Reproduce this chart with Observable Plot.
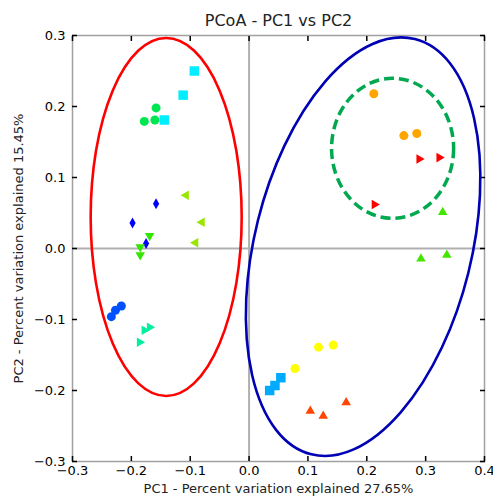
<!DOCTYPE html>
<html>
<head>
<meta charset="utf-8">
<script src="https://cdn.jsdelivr.net/npm/d3@7"></script>
<script src="https://cdn.jsdelivr.net/npm/@observablehq/plot@0.6"></script>
<style>
  html, body { margin: 0; padding: 0; background: white; }
  #chart { width: 493px; height: 499px; }
</style>
</head>
<body>
<div id="chart"></div>
<script>
// ---- Data ----
const title = "PCoA - PC1 vs PC2";
const xLabel = "PC1 - Percent variation explained 27.65%";
const yLabel = "PC2 - Percent variation explained 15.45%";
const xTicks = [-0.3, -0.2, -0.1, 0.0, 0.1, 0.2, 0.3, 0.4];
const yTicks = [-0.3, -0.2, -0.1, 0.0, 0.1, 0.2, 0.3];

// sample groups: marker kind + colour
const groupMarker = ["square", "circle", "diamond", "triLeft", "triDown", "circle", "triRight",
                     "circle", "triRight", "triUp", "circle", "square", "triUp"];
const groupColor  = ["#00eeff", "#00e650", "#0000ff", "#99e600", "#33e600", "#0050ff", "#00f0a0",
                     "#ffa500", "#ff0000", "#44e600", "#ffff00", "#00aaff", "#ff4500"];

// points
const pc1 = [
  -0.093, -0.112, -0.144,
  -0.158, -0.160, -0.178,
  -0.158, -0.198, -0.175,
  -0.107, -0.080, -0.091,
  -0.169, -0.185, -0.185,
  -0.234, -0.227, -0.217,
  -0.169, -0.178, -0.186,
   0.212,  0.263,  0.285,
   0.289,  0.323,  0.213,
   0.329,  0.292,  0.336,
   0.118,  0.143,  0.078,
   0.054,  0.044,  0.035,
   0.104,  0.126,  0.165
];
const pc2 = [
   0.250,  0.216,  0.181,
   0.198,  0.181,  0.179,
   0.063,  0.036,  0.007,
   0.075,  0.037,  0.008,
   0.018,  0.002, -0.009,
  -0.096, -0.087, -0.081,
  -0.111, -0.115, -0.132,
   0.218,  0.159,  0.162,
   0.126,  0.128,  0.062,
   0.051, -0.0145, -0.009,
  -0.139, -0.136, -0.169,
  -0.182, -0.193, -0.200,
  -0.229, -0.236, -0.217
];
const grp = [0,0,0, 1,1,1, 2,2,2, 3,3,3, 4,4,4, 5,5,5, 6,6,6, 7,7,7, 8,8,8, 9,9,9, 10,10,10, 11,11,11, 12,12,12];

// ellipses (centre, semi-axes in data units, rotation in degrees)
const ellCx    = [-0.140, 0.1946, 0.2447];
const ellCy    = [ 0.0437, 0.0018, 0.1404];
const ellRx    = [ 0.1283, 0.1842, 0.1037];
const ellRy    = [ 0.2521, 0.3014, 0.0986];
const ellAngle = [ 0, 14, 0];
const ellColor = ["#ff0000", "#0000b4", "#00a84f"];
const ellDash  = [null, null, "10,5"];
const ellWidth = [2.6, 2.6, 3.5];

// ---- custom marker shapes ----
function poly(ctx, pts) {
  ctx.moveTo(pts[0][0], pts[0][1]);
  for (let i = 1; i < pts.length; i++) ctx.lineTo(pts[i][0], pts[i][1]);
  ctx.closePath();
}
function tri(dirDeg) {
  return {draw(ctx, size) {
    const r = Math.sqrt(size / Math.PI) * 1.1;
    const pts = [0, 120, 240].map(a => {
      const t = (a + dirDeg) * Math.PI / 180;
      return [r * Math.cos(t), r * Math.sin(t)];
    });
    poly(ctx, pts);
  }};
}
const shapes = {
  square: {draw(ctx, size) { const h = Math.sqrt(size / Math.PI) * 0.95; poly(ctx, [[-h,-h],[h,-h],[h,h],[-h,h]]); }},
  circle: {draw(ctx, size) { const r = Math.sqrt(size / Math.PI) * 0.9; ctx.moveTo(r, 0); ctx.arc(0, 0, r, 0, 2 * Math.PI); }},
  diamond: {draw(ctx, size) { const r = Math.sqrt(size / Math.PI); const h = r * 1.1, w = r * 0.62; poly(ctx, [[0,-h],[w,0],[0,h],[-w,0]]); }},
  triUp: tri(-90),
  triDown: tri(90),
  triLeft: tri(180),
  triRight: tri(0)
};

const points = pc1.map((x, i) => ({pc1: x, pc2: pc2[i], g: grp[i]}));
const ellipses = ellCx.map((cx, i) => ({cx, cy: ellCy[i], rx: ellRx[i], ry: ellRy[i], angle: ellAngle[i]}));

function ellipseMark(index, scales) {
  const g = d3.create("svg:g");
  ellipses.forEach((e, i) => {
    const cx = scales.x(e.cx), cy = scales.y(e.cy);
    const rx = Math.abs(scales.x(e.cx + e.rx) - cx);
    const ry = Math.abs(scales.y(e.cy + e.ry) - cy);
    g.append("ellipse")
      .attr("cx", cx).attr("cy", cy).attr("rx", rx).attr("ry", ry)
      .attr("transform", `rotate(${e.angle} ${cx} ${cy})`)
      .attr("fill", "none")
      .attr("stroke", ellColor[i])
      .attr("stroke-width", ellWidth[i])
      .attr("stroke-dasharray", ellDash[i]);
  });
  return g.node();
}

const fmt = d3.format(".1f");
const tickStyle = {stroke: "black", strokeWidth: 1.5, tickSize: -5};

const dotMarks = groupMarker.map((m, gi) =>
  Plot.dot(points.filter(p => p.g === gi), {
    x: "pc1", y: "pc2", r: 5, symbol: shapes[m], fill: groupColor[gi], stroke: "none"
  })
);

const chart = Plot.plot({
  width: 493,
  height: 499,
  marginLeft: 72,
  marginRight: 9,
  marginTop: 35,
  marginBottom: 38,
  style: {fontFamily: "DejaVu Sans", fontSize: "13px", background: "white", color: "black", overflow: "visible"},
  x: {domain: [-0.3, 0.4]},
  y: {domain: [-0.3, 0.3]},
  marks: [
    Plot.ruleX([0], {stroke: "#b0b0b0", strokeWidth: 2}),
    Plot.ruleY([0], {stroke: "#b0b0b0", strokeWidth: 2}),
    Plot.frame({stroke: "#a0a0a0", strokeWidth: 1.5}),
    Plot.axisX({anchor: "bottom", ticks: xTicks, tickFormat: fmt, tickPadding: 9, label: null, ...tickStyle, fill: "black"}),
    Plot.axisX({anchor: "top", ticks: xTicks, tickFormat: () => "", label: null, ...tickStyle}),
    Plot.axisY({anchor: "left", ticks: yTicks, tickFormat: fmt, tickPadding: 12, label: null, ...tickStyle, fill: "black"}),
    Plot.axisY({anchor: "right", ticks: yTicks, tickFormat: () => "", label: null, ...tickStyle}),
    ellipseMark,
    ...dotMarks,
    Plot.text([title], {frameAnchor: "top", dy: -10, lineAnchor: "bottom", fontSize: 16, fill: "#222"}),
    Plot.text([xLabel], {frameAnchor: "bottom", dy: 22, lineAnchor: "top", fontSize: 13, fill: "#222"}),
    Plot.text([yLabel], {frameAnchor: "left", dx: -54, rotate: -90, textAnchor: "middle", fontSize: 13, fill: "#222"})
  ]
});
document.getElementById("chart").append(chart);
</script>
</body>
</html>
